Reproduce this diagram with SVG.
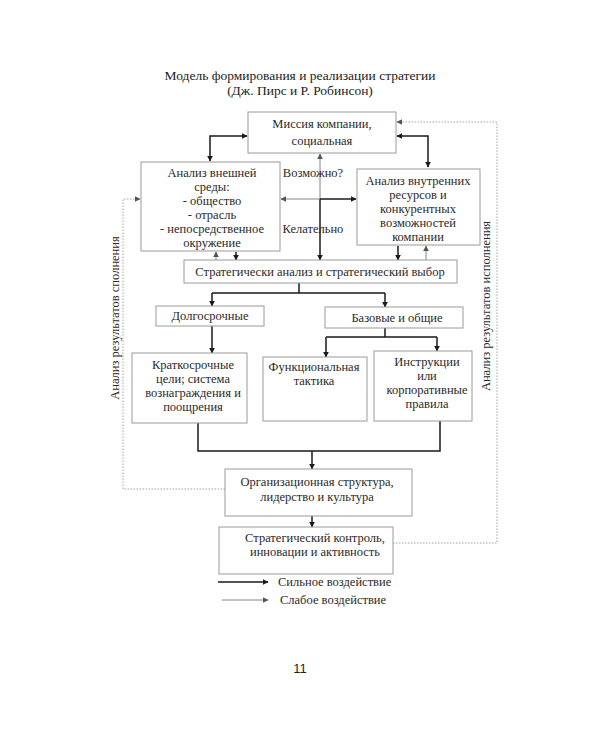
<svg xmlns="http://www.w3.org/2000/svg" width="600" height="750" viewBox="0 0 600 750">
<style>
.bg{fill:#fff}
.box{fill:#fff;stroke:#9a9a9a;stroke-width:1}
.t{font-family:"Liberation Serif","DejaVu Serif",serif;font-size:12.5px;fill:#2a2a2a;text-anchor:middle}
.title{font-family:"Liberation Serif","DejaVu Serif",serif;font-size:13.5px;fill:#222;text-anchor:middle}
.s{fill:none;stroke:#1a1a1a;stroke-width:1.5}
.w{fill:none;stroke:#777;stroke-width:0.9}
.d{fill:none;stroke:#999;stroke-width:0.9;stroke-dasharray:1.5,1.5}
.pn{font-family:"Liberation Sans",Arial,sans-serif;font-size:13px;fill:#222;text-anchor:middle}
</style>
<defs>
<marker id="as" viewBox="0 0 10 10" refX="9" refY="5" markerWidth="6" markerHeight="6" markerUnits="userSpaceOnUse" orient="auto-start-reverse"><path d="M0,0 L10,5 L0,10 z" fill="#1a1a1a"/></marker>
<marker id="aw" viewBox="0 0 10 10" refX="9" refY="5" markerWidth="6" markerHeight="6" markerUnits="userSpaceOnUse" orient="auto-start-reverse"><path d="M0,0 L10,5 L0,10 z" fill="#555"/></marker>
</defs>
<rect class="bg" x="0" y="0" width="600" height="750"/>
<g id="title">
<text class="title" x="300" y="80">Модель формирования и реализации стратегии</text>
<text class="title" x="300" y="95">(Дж. Пирс и Р. Робинсон)</text>
</g>
<g id="connectors">
<path class="s" d="M210,161 V136 H247" marker-start="url(#as)" marker-end="url(#as)"/>
<path class="s" d="M397,136 H428 V167" marker-start="url(#as)" marker-end="url(#as)"/>
<path class="d" d="M393,543 H497 V122 H397" marker-end="url(#aw)"/>
<path class="d" d="M225,489 H123 V199 H140" marker-end="url(#aw)"/>
<path class="w" d="M320,199 V154" marker-end="url(#aw)"/>
<path class="s" d="M320,199 V260" marker-end="url(#as)"/>
<path class="w" d="M320,199 H281" marker-end="url(#aw)"/>
<path class="s" d="M320,199 H356" marker-end="url(#as)"/>
<path class="w" d="M216,260 V252" marker-end="url(#aw)"/>
<path class="s" d="M236,252 V260" marker-end="url(#as)"/>
<path class="s" d="M398,246 V260" marker-end="url(#as)"/>
<path class="w" d="M426,260 V246" marker-end="url(#aw)"/>
<path class="s" d="M299,283 V293 M212,293 H385"/>
<path class="s" d="M212,293 V306" marker-end="url(#as)"/>
<path class="s" d="M385,293 V307" marker-end="url(#as)"/>
<path class="s" d="M212,326 V353" marker-end="url(#as)"/>
<path class="s" d="M385,328 V337 M326,337 H437"/>
<path class="s" d="M326,337 V357" marker-end="url(#as)"/>
<path class="s" d="M437,337 V351" marker-end="url(#as)"/>
<path class="s" d="M198,423 V451 H440 V421"/>
<path class="s" d="M312,451 V469" marker-end="url(#as)"/>
<path class="s" d="M312,516 V527" marker-end="url(#as)"/>
</g>
<g id="mission">
<rect class="box" x="248" y="112" width="148" height="41"/>
<text class="t" x="322" y="128">Миссия компании,</text>
<text class="t" x="322" y="145">социальная</text>
</g>
<g id="external">
<rect class="box" x="141" y="162" width="139" height="89"/>
<text class="t" x="212" y="177">Анализ внешней</text>
<text class="t" x="212" y="191">среды:</text>
<text class="t" x="212" y="205">- общество</text>
<text class="t" x="212" y="219">- отрасль</text>
<text class="t" x="212" y="233">- непосредственное</text>
<text class="t" x="212" y="247">окружение</text>
</g>
<g id="internal">
<rect class="box" x="357" y="169" width="123" height="76"/>
<text class="t" x="418" y="185">Анализ внутренних</text>
<text class="t" x="418" y="199">ресурсов и</text>
<text class="t" x="418" y="213">конкурентных</text>
<text class="t" x="418" y="227">возможностей</text>
<text class="t" x="418" y="241">компании</text>
</g>
<g id="labels">
<text class="t" x="313" y="177">Возможно?</text>
<text class="t" x="313" y="233">Келательно</text>
</g>
<g id="strategic">
<rect class="box" x="184" y="260" width="273" height="23"/>
<text class="t" x="320" y="276">Стратегически анализ и стратегический выбор</text>
</g>
<g id="long">
<rect class="box" x="156" y="306" width="108" height="20"/>
<text class="t" x="210" y="320">Долгосрочные</text>
</g>
<g id="basic">
<rect class="box" x="325" y="307" width="138" height="21"/>
<text class="t" x="397" y="322">Базовые и общие</text>
</g>
<g id="short">
<rect class="box" x="132" y="353" width="115" height="70"/>
<text class="t" x="193" y="369">Краткосрочные</text>
<text class="t" x="193" y="383">цели; система</text>
<text class="t" x="193" y="397">вознаграждения и</text>
<text class="t" x="193" y="411">поощрения</text>
</g>
<g id="functional">
<rect class="box" x="263" y="357" width="104" height="64"/>
<text class="t" x="314" y="371">Функциональная</text>
<text class="t" x="314" y="385">тактика</text>
</g>
<g id="instructions">
<rect class="box" x="374" y="351" width="98" height="70"/>
<text class="t" x="427" y="366">Инструкции</text>
<text class="t" x="427" y="380">или</text>
<text class="t" x="427" y="394">корпоративные</text>
<text class="t" x="427" y="408">правила</text>
</g>
<g id="org">
<rect class="box" x="225" y="469" width="187" height="47"/>
<text class="t" x="317" y="486">Организационная структура,</text>
<text class="t" x="317" y="501">лидерство и культура</text>
</g>
<g id="control">
<rect class="box" x="219" y="527" width="174" height="47"/>
<text class="t" x="315" y="542">Стратегический контроль,</text>
<text class="t" x="315" y="556">инновации и активность</text>
</g>
<g id="side-labels">
<text class="t" transform="translate(119,318) rotate(-90)">Анализ результатов  сполнения</text>
<text class="t" transform="translate(490,306) rotate(-90)">Анализ  результатов исполнения</text>
</g>
<g id="legend">
<path class="s" d="M218,582 H268" marker-end="url(#as)"/>
<path class="w" d="M222,600 H268" marker-end="url(#aw)"/>
<text class="t" x="278" y="586" style="text-anchor:start">Сильное воздействие</text>
<text class="t" x="280" y="604" style="text-anchor:start">Слабое воздействие</text>
</g>
<text class="pn" x="300" y="673">11</text>
</svg>
